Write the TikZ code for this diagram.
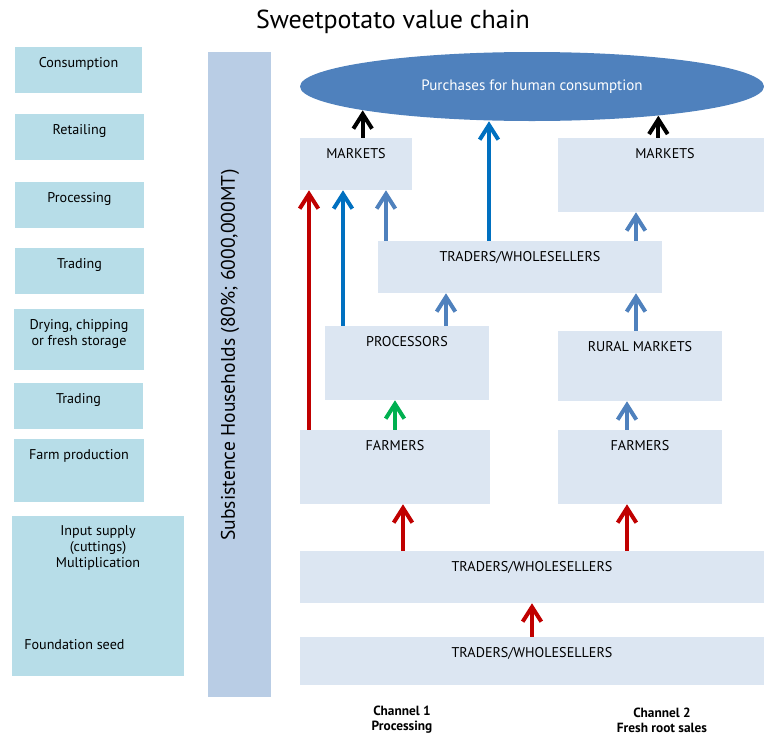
\documentclass[tikz,border=0pt]{standalone}
\usepackage{fontspec}
\setmainfont{PT Sans}
\usetikzlibrary{shapes.geometric,arrows.meta,fit}
\definecolor{lboxc}{HTML}{B7DDE8}
\definecolor{vbarc}{HTML}{B9CDE5}
\definecolor{rboxc}{HTML}{DCE6F2}
\definecolor{ellc}{HTML}{4F81BD}
\definecolor{redc}{HTML}{C00000}
\definecolor{bluec}{HTML}{0070C0}
\definecolor{lbluec}{HTML}{4F81BD}
\definecolor{greenc}{HTML}{00B050}
\begin{document}
\begin{tikzpicture}[x=0.75pt,y=-0.75pt,
  lbox/.style={fill=lboxc, draw=none, inner sep=0pt},
  rbox/.style={fill=rboxc, draw=none, inner sep=0pt},
  lt/.style={anchor=north, inner sep=0pt, yshift=-7.5pt, font=\fontsize{10.6}{12}\selectfont, align=center, text=black},
  arr/.style={line width=3pt, -{Straight Barb[length=11pt,width=14pt]}},
]
\useasboundingbox (0,0) rectangle (764,736);

% title
\node[font=\fontsize{19.5}{23}\selectfont] (title) at (393,22) {Sweetpotato value chain};

% left stage boxes
\node[lbox, fit={(15,47) (142,93)}, label={[lt]north:Consumption}] (l1) {};
\node[lbox, fit={(15,114) (144,160)}, label={[lt]north:Retailing}] (l2) {};
\node[lbox, fit={(15,182) (144,228)}, label={[lt]north:Processing}] (l3) {};
\node[lbox, fit={(15,248) (144,294)}, label={[lt]north:Trading}] (l4) {};
\node[lbox, fit={(14,309) (144,370)}, label={[lt]north:{Drying, chipping\\or fresh storage}}] (l5) {};
\node[lbox, fit={(14,383) (143,429)}, label={[lt]north:Trading}] (l6) {};
\node[lbox, fit={(14,439) (144,502)}, label={[lt]north:Farm production}] (l7) {};
\node[lbox, fit={(12,516) (184,676)}, label={[lt]north:{Input supply\\(cuttings)\\Multiplication}}] (l8) {};
\node[anchor=west, inner sep=0pt, font=\fontsize{10.6}{12}\selectfont, text=black] (fs) at (24,645) {Foundation seed};

% vertical bar
\node[fill=vbarc, inner sep=0pt, fit={(208,52) (271,697)}] (vb) {};
\node[rotate=90, font=\fontsize{14.7}{17}\selectfont, text=black] (vbt) at (230,355) {Subsistence Households (80\%; 6000,000MT)};

% ellipse
\node[ellipse, fill=ellc, inner sep=0pt, minimum width=348pt, minimum height=51.75pt, text=white, font=\fontsize{11.3}{13}\selectfont] (ell) at (532,86.5) {Purchases for human consumption};

% right boxes
\node[rbox, fit={(300,138) (412,190)}, label={[lt]north:MARKETS}] (m1) {};
\node[rbox, fit={(558,138) (764,212)}, label={[lt, xshift=3pt]north:MARKETS}] (m2) {};
\node[rbox, fit={(378,241) (662,293)}, label={[lt]north:TRADERS/WHOLESELLERS}] (tw) {};
\node[rbox, fit={(325,326) (489,400)}, label={[lt]north:PROCESSORS}] (proc) {};
\node[rbox, fit={(558,331) (722,401)}, label={[lt]north:RURAL MARKETS}] (rur) {};
\node[rbox, fit={(300,430) (490,504)}, label={[lt]north:FARMERS}] (far1) {};
\node[rbox, fit={(558,430) (722,504)}, label={[lt]north:FARMERS}] (far2) {};
\node[rbox, fit={(300,551) (764,603)}, label={[lt]north:TRADERS/WHOLESELLERS}] (tl) {};
\node[rbox, fit={(300,637) (764,685)}, label={[lt]north:TRADERS/WHOLESELLERS}] (tb) {};

% channel labels
\node[font=\bfseries\fontsize{10}{11.25}\selectfont, align=center, text=black] (ch1) at (402,720) {Channel 1\\Processing};
\node[font=\bfseries\fontsize{10}{11.25}\selectfont, align=center, text=black] (ch2) at (662,720) {Channel 2\\Fresh root sales};

% column positions
\coordinate (cA) at (309,0);
\coordinate (cB) at (343,0);
\coordinate (cC) at (386,0);
\coordinate (cD) at (395,0);
\coordinate (cE) at (403,0);
\coordinate (cF) at (446,0);
\coordinate (cG) at (489,0);
\coordinate (cH) at (532,0);
\coordinate (cI) at (627,0);
\coordinate (cJ) at (636,0);

% arrows
\draw[arr, black] (ell.188.55 |- m1.north) -- (ell.188.55);
\draw[arr, black] (ell.347.6 |- m2.north) -- (ell.347.6);
\draw[arr, bluec] (tw.north -| cG) -- (ell.south -| cG);
\draw[arr, redc] (far1.north -| cA) -- (m1.south -| cA);
\draw[arr, bluec] (proc.north -| cB) -- (m1.south -| cB);
\draw[arr, lbluec] (tw.north -| cC) -- (m1.south -| cC);
\draw[arr, lbluec] (proc.north -| cF) -- (tw.south -| cF);
\draw[arr, greenc] (far1.north -| cD) -- (proc.south -| cD);
\draw[arr, lbluec] (tw.north -| cJ) -- (m2.south -| cJ);
\draw[arr, lbluec] (rur.north -| cJ) -- (tw.south -| cJ);
\draw[arr, lbluec] (far2.north -| cI) -- (rur.south -| cI);
\draw[arr, redc] (tl.north -| cE) -- (far1.south -| cE);
\draw[arr, redc] (tl.north -| cI) -- (far2.south -| cI);
\draw[arr, redc] (tb.north -| cH) -- (tl.south -| cH);
\end{tikzpicture}
\end{document}
